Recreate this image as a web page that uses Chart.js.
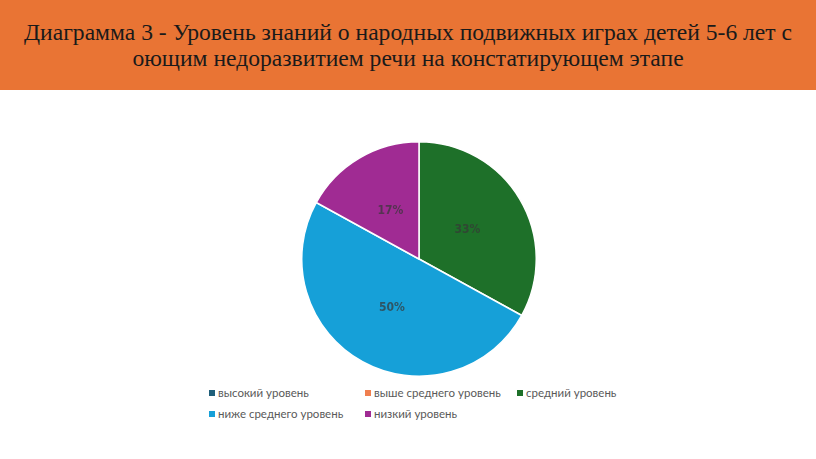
<!DOCTYPE html>
<html><head><meta charset="utf-8">
<script src="https://cdn.jsdelivr.net/npm/chart.js@4"></script>
<style>
html,body{margin:0;padding:0;background:#fff;width:816px;height:459px;overflow:hidden;}
#hdr{position:absolute;left:0;top:0;width:816px;height:90px;background:#E97434;}
#title{position:absolute;left:0;top:19px;width:816px;text-align:center;font-family:"Liberation Serif","Times New Roman",serif;font-size:23.6px;line-height:26px;color:#1a1a1a;}
#wrap{position:absolute;left:301px;top:141px;width:236px;height:236px;}
.lg{position:absolute;font-family:Lato,"Noto Sans",sans-serif;font-size:11.5px;color:#595959;white-space:nowrap;line-height:14px;}
.lg span{display:inline-block;width:6px;height:6px;margin-right:3px;vertical-align:1px;}
</style></head><body>
<div id="hdr"></div>
<div id="title">Диаграмма 3 - Уровень знаний о народных подвижных играх детей 5-6 лет с<br>оющим недоразвитием речи на констатирующем этапе</div>
<div id="wrap"><canvas id="c"></canvas></div>
<div id="legend"></div>
<script>
const categories = ["высокий уровень","выше среднего уровень","средний уровень","ниже среднего уровень","низкий уровень"];
const values = [0, 0, 33, 50, 17];
const colors = ["#1F5F7A","#F07F4F","#1E7029","#16A0D8","#A02B93"];
const labelPos = [[209,386],[365,386],[517,386],[209,407],[365,407]];

const labelPlugin = {
  id:'pctLabels',
  afterDatasetsDraw(chart){
    const ctx = chart.ctx;
    const meta = chart.getDatasetMeta(0);
    ctx.save();
    ctx.font = 'bold 12px "DejaVu Sans Condensed","Liberation Sans Narrow",sans-serif';
    ctx.textAlign='center'; ctx.textBaseline='middle';
    ctx.fillStyle='rgba(55,55,55,0.72)';
    meta.data.forEach((arc,i)=>{
      if(!values[i]) return;
      const mid=(arc.startAngle+arc.endAngle)/2;
      const r=arc.outerRadius*0.48;
      ctx.fillText(values[i]+'%', arc.x+Math.cos(mid)*r, arc.y+Math.sin(mid)*r);
    });
    ctx.restore();
  }
};

new Chart(document.getElementById('c'),{
  type:'pie',
  data:{labels:categories,datasets:[{data:values,backgroundColor:colors,borderColor:'#fff',borderWidth:1.5}]},
  options:{responsive:true,maintainAspectRatio:false,animation:false,
    layout:{padding:0},
    plugins:{legend:{display:false},tooltip:{enabled:false}}},
  plugins:[labelPlugin]
});

const lg=document.getElementById('legend');
categories.forEach((c,i)=>{
  const d=document.createElement('div');
  d.className='lg';
  d.style.left=labelPos[i][0]+'px'; d.style.top=labelPos[i][1]+'px';
  d.innerHTML='<span style="background:'+colors[i]+'"></span>'+c;
  lg.appendChild(d);
});
</script>
</body></html>
